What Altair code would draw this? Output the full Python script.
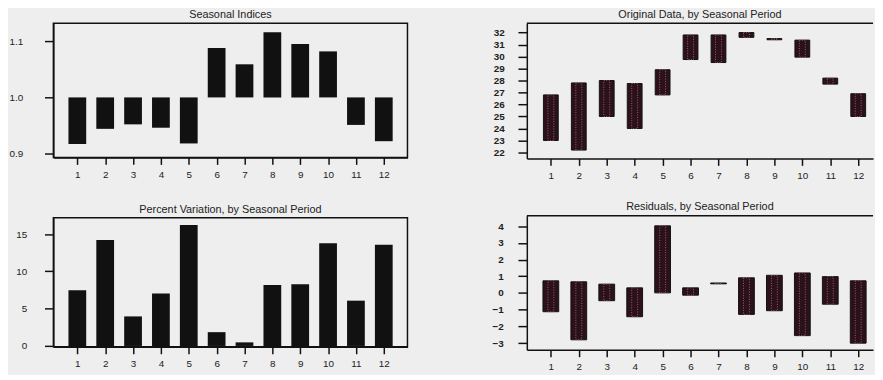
import altair as alt
import pandas as pd

periods = list(range(1, 13))
seasonal_index = [0.917, 0.944, 0.952, 0.946, 0.918, 1.088, 1.059, 1.116, 1.095, 1.082, 0.951, 0.922]
orig_low = [23.0, 22.2, 25.0, 24.0, 26.8, 29.75, 29.5, 31.6, 31.4, 29.95, 27.7, 25.0]
orig_high = [26.8, 27.8, 28.0, 27.75, 28.9, 31.8, 31.8, 32.0, 31.5, 31.37, 28.2, 26.9]
pct_var = [7.48, 14.2, 3.96, 7.04, 16.2, 1.85, 0.48, 8.18, 8.27, 13.77, 6.07, 13.55]
res_low = [-1.12, -2.8, -0.46, -1.42, 0.01, -0.13, 0.55, -1.28, -1.06, -2.55, -0.67, -3.0]
res_high = [0.73, 0.67, 0.53, 0.31, 4.02, 0.31, 0.6, 0.91, 1.06, 1.2, 0.98, 0.73]

idx_ticks = [0.9, 1.0, 1.1]
orig_ticks = list(range(22, 33))
pct_ticks = [0, 5, 10, 15]
res_ticks = list(range(-3, 5))

df = pd.DataFrame({
    "period": periods,
    "seasonal_index": seasonal_index,
    "one": [1.0] * 12,
    "orig_low": orig_low,
    "orig_high": orig_high,
    "pct_var": pct_var,
    "zero": [0.0] * 12,
    "res_low": res_low,
    "res_high": res_high,
})

FONT = "Liberation Sans"
BLACK = "#111111"
TXT = "#222222"
BOXFILL = "#2b1119"
DOTS = "#9a6070"

LW, RW = 359, 351


def x_enc(domain):
    return alt.X(
        "period:Q",
        scale=alt.Scale(domain=domain, nice=False, zero=False, padding=0),
        axis=alt.Axis(values=periods, format="d", grid=False, domain=True,
                      domainColor=BLACK, domainWidth=1.5, tickSize=7, tickWidth=1.5,
                      tickColor=BLACK, labelFont=FONT, labelFontSize=10, labelColor=TXT,
                      labelPadding=5, labelAngle=0, title=None),
    )


def y_axis(values, fmt, pad, bold=False):
    return alt.Axis(values=values, format=fmt, grid=False, domain=True,
                    domainColor=BLACK, domainWidth=1.5, tickSize=9, tickWidth=1.5,
                    tickColor=BLACK, labelFont=FONT, labelFontSize=10,
                    labelFontWeight="bold" if bold else "normal",
                    labelColor=TXT, labelPadding=pad, labelAlign="right",
                    labelOverlap=False, labelBound=False, title=None)


def ttl(text):
    return alt.TitleParams(text, font=FONT, fontSize=11, fontWeight="normal",
                           color=TXT, offset=3, anchor="middle")


box = alt.ViewBackground(stroke=BLACK, strokeWidth=1.5)
nobox = alt.ViewBackground(stroke="transparent")

tl = alt.Chart(df).mark_bar(size=18, color=BLACK).encode(
    x=x_enc([0.14, 12.85]),
    y=alt.Y("seasonal_index:Q", scale=alt.Scale(domain=[0.893, 1.132], nice=False, zero=False),
            axis=y_axis(idx_ticks, ".1f", 22)),
    y2="one:Q",
).properties(width=LW, height=136, title=ttl("Seasonal Indices"), view=box)

bl = alt.Chart(df).mark_bar(size=18, color=BLACK).encode(
    x=x_enc([0.14, 12.85]),
    y=alt.Y("pct_var:Q", scale=alt.Scale(domain=[-0.12, 17.2], nice=False, zero=False),
            axis=y_axis(pct_ticks, "d", 18)),
    y2="zero:Q",
).properties(width=LW, height=131, title=ttl("Percent Variation, by Seasonal Period"), view=box)

top_line = alt.Chart(alt.Data(values=[{"a": 1}])).mark_rule(color=BLACK, strokeWidth=1.5).encode(
    y=alt.value(0), x=alt.value(0), x2=alt.value(RW)
)

orig_base = alt.Chart(df).encode(
    x=x_enc([0.14, 12.53]),
    y=alt.Y("orig_low:Q", scale=alt.Scale(domain=[21.5, 32.77], nice=False, zero=False),
            axis=y_axis(orig_ticks, "d", 14, bold=True)),
    y2="orig_high:Q",
)
tr = alt.layer(
    orig_base.mark_bar(size=15, fill=BOXFILL, stroke=BLACK, strokeWidth=1),
    orig_base.mark_bar(size=6, fillOpacity=0, stroke=DOTS, strokeWidth=1, strokeDash=[1, 1.5]),
    top_line,
).properties(width=RW, height=137, title=ttl("Original Data, by Seasonal Period"), view=nobox)

res_base = alt.Chart(df).encode(
    x=x_enc([0.14, 12.53]),
    y=alt.Y("res_low:Q", scale=alt.Scale(domain=[-3.4, 4.63], nice=False, zero=False),
            axis=y_axis(res_ticks, "d", 15, bold=True)),
    y2="res_high:Q",
)
br = alt.layer(
    res_base.mark_bar(size=16, fill=BOXFILL, stroke=BLACK, strokeWidth=1),
    res_base.mark_bar(size=6, fillOpacity=0, stroke=DOTS, strokeWidth=1, strokeDash=[1, 1.5]),
    top_line,
).properties(width=RW, height=136, title=ttl("Residuals, by Seasonal Period"), view=nobox)

chart = alt.hconcat(
    alt.vconcat(tl, bl, spacing=23),
    alt.vconcat(tr, br, spacing=19),
    spacing=84,
).properties(
    padding={"left": 0, "top": -3, "right": 0, "bottom": 0},
    background="#eeeeee",
).configure(font=FONT)

chart.save("out.html", embed_options={"renderer": "svg", "actions": False})
